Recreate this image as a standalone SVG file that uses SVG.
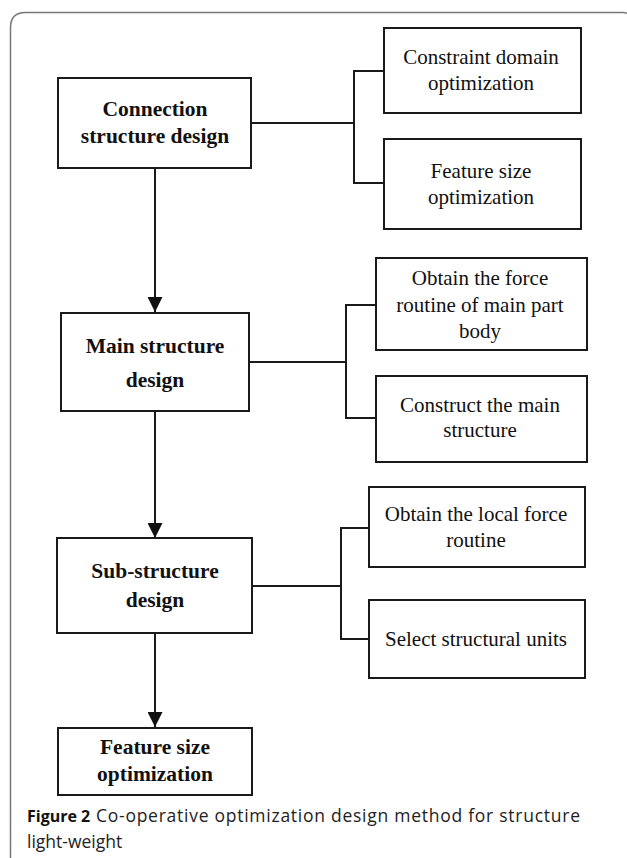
<svg xmlns="http://www.w3.org/2000/svg" width="627" height="858" viewBox="0 0 627 858">
<style>
.box{fill:#fff;stroke:#1a1a1a;stroke-width:2}
.b{font-family:"Liberation Serif","Times New Roman",serif;font-weight:bold;font-size:21.5px;fill:#111;text-anchor:middle}
.r{font-family:"Liberation Serif","Times New Roman",serif;font-size:21px;fill:#111;text-anchor:middle}
.ln{fill:none;stroke:#1a1a1a;stroke-width:2}
.cap{font-family:"Open Sans","Noto Sans",sans-serif;font-size:17.5px;fill:#222}
</style>
<defs>
<marker id="ah" markerWidth="15" markerHeight="15" refX="15" refY="7.5" orient="auto" markerUnits="userSpaceOnUse">
<path d="M0,0 L15,7.5 L0,15 Z" fill="#111"/>
</marker>
</defs>
<rect width="627" height="858" fill="#fff"/>
<path id="frame" d="M10.5,858 L10.5,27.5 Q10.5,12.5 25.5,12.5 L623,12.5 Q627,12.5 630,15" fill="none" stroke="#777" stroke-width="1.5"/>
<g id="connectors">
<path class="ln" d="M155,168 L155,312" marker-end="url(#ah)"/>
<path class="ln" d="M155,411 L155,538" marker-end="url(#ah)"/>
<path class="ln" d="M155,633 L155,727" marker-end="url(#ah)"/>
<path class="ln" d="M251,123 L354,123 M384,71 L354,71 L354,183 L384,183"/>
<path class="ln" d="M249,362 L346,362 M376,305 L346,305 L346,418 L376,418"/>
<path class="ln" d="M252,586 L341,586 M369,528 L341,528 L341,639 L369,639"/>
</g>
<g id="connection">
<rect class="box" x="58" y="78" width="193" height="90"/>
<text class="b" x="155" y="116">Connection</text>
<text class="b" x="155" y="143">structure design</text>
</g>
<g id="constraint">
<rect class="box" x="384" y="28" width="197" height="85"/>
<text class="r" x="481" y="64">Constraint domain</text>
<text class="r" x="481" y="90">optimization</text>
</g>
<g id="featureRight">
<rect class="box" x="384" y="139" width="197" height="90"/>
<text class="r" x="481" y="178">Feature size</text>
<text class="r" x="481" y="204">optimization</text>
</g>
<g id="main">
<rect class="box" x="61" y="313" width="188" height="98"/>
<text class="b" x="155" y="353">Main structure</text>
<text class="b" x="155" y="387">design</text>
</g>
<g id="obtainForce">
<rect class="box" x="376" y="258" width="211" height="92"/>
<text class="r" x="480" y="285">Obtain the force</text>
<text class="r" x="480" y="312">routine of main part</text>
<text class="r" x="480" y="338">body</text>
</g>
<g id="construct">
<rect class="box" x="376" y="376" width="211" height="86"/>
<text class="r" x="480" y="412">Construct the main</text>
<text class="r" x="480" y="437">structure</text>
</g>
<g id="sub">
<rect class="box" x="57" y="538" width="195" height="95"/>
<text class="b" x="155" y="578">Sub-structure</text>
<text class="b" x="155" y="607">design</text>
</g>
<g id="obtainLocal">
<rect class="box" x="369" y="487" width="216" height="80"/>
<text class="r" x="476" y="521">Obtain the local force</text>
<text class="r" x="476" y="547">routine</text>
</g>
<g id="select">
<rect class="box" x="369" y="600" width="216" height="78"/>
<text class="r" x="476" y="646">Select structural units</text>
</g>
<g id="featureBottom">
<rect class="box" x="58" y="728" width="194" height="67"/>
<text class="b" x="155" y="754">Feature size</text>
<text class="b" x="155" y="781">optimization</text>
</g>
<g id="caption">
<text class="cap" x="27" y="822"><tspan font-weight="bold" fill="#111" font-size="16px">Figure 2</tspan><tspan x="96" textLength="484">Co-operative optimization design method for structure</tspan></text>
<text class="cap" x="27" y="848">light-weight</text>
</g>
</svg>
